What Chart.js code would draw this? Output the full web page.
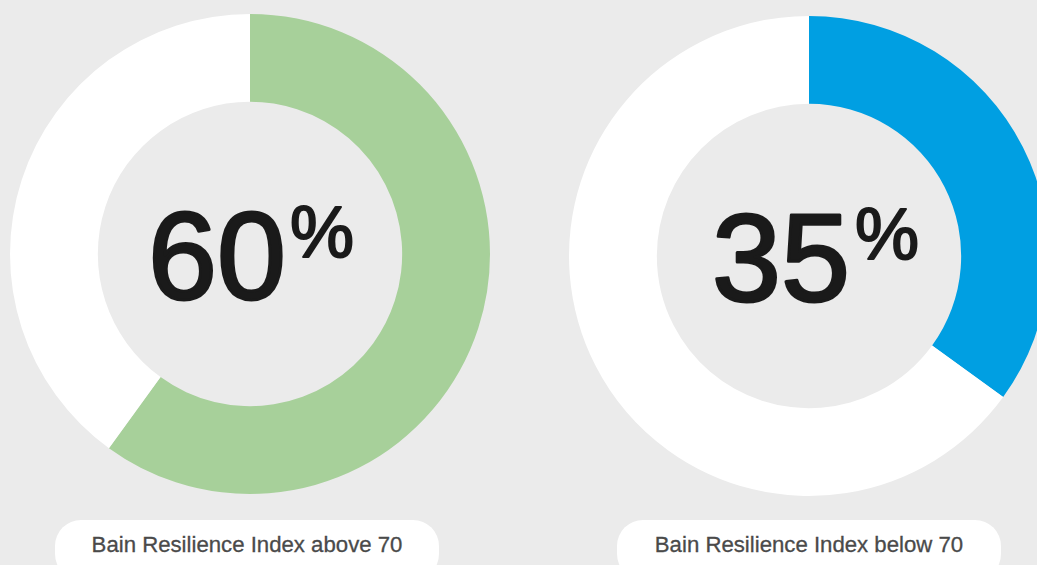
<!DOCTYPE html>
<html>
<head>
<meta charset="utf-8">
<script src="https://cdn.jsdelivr.net/npm/chart.js@4.4.1/dist/chart.umd.min.js"></script>
<style>
  html, body { margin: 0; padding: 0; }
  body { width: 1037px; height: 565px; overflow: hidden; background: #ebebeb; position: relative;
         font-family: "Liberation Sans", Arial, Helvetica, sans-serif; }
  .wrap { position: absolute; width: 500px; height: 500px; }
  #wrapA { left: 0; top: 4px; }
  #wrapB { left: 559px; top: 6px; }
  .pill { position: absolute; top: 520px; height: 60px; width: 384px; background: #fff; border-radius: 26px;
          text-align: center; color: #4a4a4a; font-size: 22.2px; line-height: 50px;
          -webkit-text-stroke: 0.3px #4a4a4a; }
  #pillA { left: 55px; }
  #pillB { left: 617px; }
</style>
</head>
<body>
<div class="wrap" id="wrapA"><canvas id="chartA" width="500" height="500"></canvas></div>
<div class="wrap" id="wrapB"><canvas id="chartB" width="500" height="500"></canvas></div>
<div class="pill" id="pillA"></div>
<div class="pill" id="pillB"></div>
<script>
const groupLabels = ['Bain Resilience Index above 70', 'Bain Resilience Index below 70'];
const sliceLabels = ['Share', 'Rest'];
const aboveValues = [60, 40];
const belowValues = [35, 65];
const aboveColors = ['#a7d09a', '#ffffff'];
const belowColors = ['#009fe2', '#ffffff'];

// big number in the hole, with a raised % sign
const centerText = {
  id: 'centerText',
  afterDraw(chart, args, opts) {
    const { ctx } = chart;
    const meta = chart.getDatasetMeta(0).data[0];
    const cx = meta.x, cy = meta.y;
    const value = chart.data.datasets[0].data[0];
    ctx.save();
    ctx.fillStyle = '#1a1a1a';
    ctx.strokeStyle = '#1a1a1a';
    ctx.lineJoin = 'round';
    ctx.textBaseline = 'alphabetic';
    ctx.textAlign = 'left';
    ctx.font = '124px "Liberation Sans", Arial, sans-serif';
    ctx.lineWidth = 3;
    ctx.fillText(String(value), cx + opts.dx, cy + 45);
    ctx.strokeText(String(value), cx + opts.dx, cy + 45);
    ctx.font = '72px "Liberation Sans", Arial, sans-serif';
    ctx.lineWidth = 2;
    ctx.fillText('%', cx + opts.pdx, cy + 3);
    ctx.strokeText('%', cx + opts.pdx, cy + 3);
    ctx.restore();
  }
};

function makeDonut(id, values, colors, dx, pdx) {
  return new Chart(document.getElementById(id), {
    type: 'doughnut',
    data: {
      labels: sliceLabels,
      datasets: [{ data: values, backgroundColor: colors, borderWidth: 0, hoverOffset: 0 }]
    },
    options: {
      responsive: false,
      animation: false,
      cutout: '63.4%',
      layout: { padding: 10 },
      plugins: {
        legend: { display: false },
        tooltip: { enabled: false },
        centerText: { dx: dx, pdx: pdx }
      }
    },
    plugins: [centerText]
  });
}

makeDonut('chartA', aboveValues, aboveColors, -102, 40);
makeDonut('chartB', belowValues, belowColors, -97, 46);

document.getElementById('pillA').textContent = groupLabels[0];
document.getElementById('pillB').textContent = groupLabels[1];
</script>
</body>
</html>
